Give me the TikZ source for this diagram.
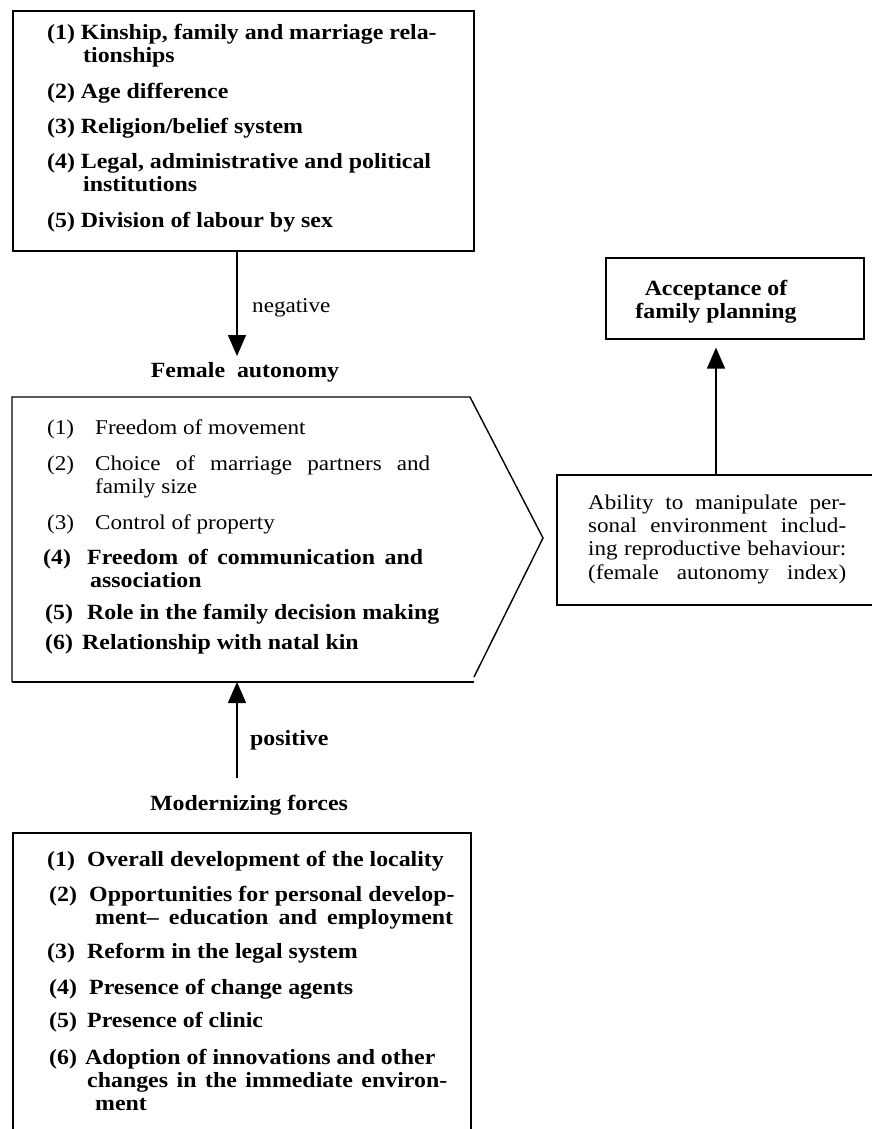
\documentclass[tikz,border=0pt]{standalone}
\usepackage{fontspec}
\setmainfont{Liberation Serif}[FakeStretch=1.1]
\usetikzlibrary{arrows.meta}

\begin{document}
\begin{tikzpicture}[x=1pt, y=-1pt,
    frame/.style={draw, line width=1.6pt, inner sep=0pt, anchor=north west},
    entry/.style={anchor=base west, inner sep=0pt, align=left, font=\fontsize{21.7}{23}\selectfont\bfseries},
    plain/.style={entry, font=\fontsize{21}{23}\selectfont},
    link/.style={line width=1.6pt, -{Triangle[width=18pt,length=21pt]}}]
\useasboundingbox (0,0) rectangle (872,1129);

% factors acting against autonomy (multi-line nodes sit on their last baseline)
\node[frame, minimum width=461pt, minimum height=240pt] (causes) at (12,10) {};
\node[entry] (c1) at (47,63) {(1) Kinship, family and marriage rela-\\\hspace*{36pt}tionships};
\node[entry] (c2) at (47,99) {(2) Age difference};
\node[entry] (c3) at (47,134) {(3) Religion/belief system};
\node[entry] (c4) at (47,191) {(4) Legal, administrative and political\\\hspace*{36pt}institutions};
\node[entry] (c5) at (47,227) {(5) Division of labour by sex};

\coordinate (negtip) at (237,356);
\draw[link] (causes.south -| negtip) -- (negtip);
\node[plain] (neg) at (252,312) {negative};

% female autonomy
\node[entry, anchor=base] (fa) at (245,377) {Female\ \ autonomy};
\draw[line width=1.4pt] (12,682) -- (12,397) -- (470,397) -- (543,538) -- (474,677);
\draw[line width=2.4pt] (12,682) -- (474,682);
\node[plain] (a1) at (47,434) {\makebox[48pt][l]{(1)}Freedom of movement};
\node[plain] (a2) at (47,493) {\makebox[48pt][l]{(2)}\makebox[335pt][s]{Choice of marriage partners and}\\\hspace*{48pt}family size};
\node[plain] (a3) at (47,529) {\makebox[48pt][l]{(3)}Control of property};
\node[entry] (a4) at (43,587) {\makebox[44pt][l]{(4)}\makebox[336pt][s]{Freedom of communication and}\\\hspace*{47pt}association};
\node[entry] (a5) at (45,619) {\makebox[42pt][l]{(5)}Role in the family decision making};
\node[entry] (a6) at (45,649) {\makebox[37pt][l]{(6)}Relationship with natal kin};

% modernizing forces
\coordinate (postail) at (237,778);
\coordinate (fabottom) at (237,682);
\draw[link] (postail) -- (fabottom);
\node[entry] (pos) at (250,745) {positive};
\node[entry, anchor=base] (mf) at (249,810) {Modernizing forces};

\node[frame, minimum width=458pt, minimum height=320pt] (forces) at (12,832) {};
\node[entry] (m1) at (47,866) {\makebox[40pt][l]{(1)}Overall development of the locality};
\node[entry] (m2) at (49,924) {\makebox[40pt][l]{(2)}Opportunities for personal develop-\\\hspace*{46pt}\makebox[358pt][s]{ment-- education and employment}};
\node[entry] (m3) at (47,958) {\makebox[40pt][l]{(3)}Reform in the legal system};
\node[entry] (m4) at (49,994) {\makebox[40pt][l]{(4)}Presence of change agents};
\node[entry] (m5) at (49,1027) {\makebox[38pt][l]{(5)}Presence of clinic};
\node[entry] (m6) at (49,1110) {\makebox[36pt][l]{(6)}Adoption of innovations and other\\\hspace*{38pt}\makebox[360pt][s]{changes in the immediate environ-}\\\hspace*{46pt}ment};

% outcome side
\node[frame, minimum width=330pt, minimum height=130pt] (ability) at (556,474) {};
\node[plain, font=\fontsize{21}{23.3}\selectfont] (abtext) at (588,579) {\makebox[258pt][s]{Ability to manipulate per-}\\\makebox[258pt][s]{sonal environment includ-}\\\makebox[258pt][s]{ing reproductive behaviour:}\\\makebox[258pt][s]{(female\ \ autonomy\ \ index)}};

\node[frame, minimum width=258pt, minimum height=81pt] (accept) at (605,257) {};
\node[entry, anchor=base, align=center] (acctext) at (716,318) {Acceptance of\\family planning};
\draw[link, shorten >=8pt] (ability.north -| acctext) -- (accept.south -| acctext);
\end{tikzpicture}
\end{document}
